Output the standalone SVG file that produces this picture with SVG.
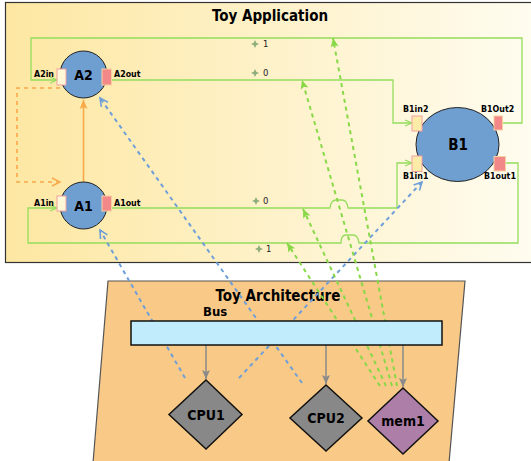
<svg xmlns="http://www.w3.org/2000/svg" width="531" height="461" viewBox="0 0 531 461">
<defs>
<linearGradient id="appGrad" x1="0" y1="0" x2="1" y2="0">
<stop offset="0" stop-color="#fde7a2"/>
<stop offset="1" stop-color="#fffdf2"/>
</linearGradient>
<marker id="gOpen" markerUnits="userSpaceOnUse" markerWidth="10" markerHeight="10" refX="8" refY="4" orient="auto">
<path d="M1,1 L8,4 L1,7" fill="none" stroke="#94dd5c" stroke-width="1.2"/>
</marker>
<marker id="gFill" markerUnits="userSpaceOnUse" markerWidth="12" markerHeight="12" refX="9" refY="5" orient="auto">
<path d="M0,1 L9,5 L0,9 L2,5 Z" fill="#88d848"/>
</marker>
<marker id="bOpen" markerUnits="userSpaceOnUse" markerWidth="12" markerHeight="12" refX="9" refY="5" orient="auto">
<path d="M1,1 L9,5 L1,9" fill="none" stroke="#6e9fd8" stroke-width="1.6"/>
</marker>
<marker id="oOpen" markerUnits="userSpaceOnUse" markerWidth="12" markerHeight="12" refX="9" refY="5" orient="auto">
<path d="M1,1 L9,5 L1,9" fill="none" stroke="#f8a94a" stroke-width="1.4"/>
</marker>
<marker id="oFill" markerUnits="userSpaceOnUse" markerWidth="12" markerHeight="12" refX="9" refY="5" orient="auto">
<path d="M0,1 L9,5 L0,9 L2,5 Z" fill="#f8a94a"/>
</marker>
<marker id="grayArr" markerUnits="userSpaceOnUse" markerWidth="12" markerHeight="12" refX="9" refY="5" orient="auto">
<path d="M0,1 L9,5 L0,9 L2,5 Z" fill="#8a8a8a"/>
</marker>
<path id="star" d="M0,-4 L1.3,-1.3 L4,0 L1.3,1.3 L0,4 L-1.3,1.3 L-4,0 L-1.3,-1.3 Z" fill="#8fae7c"/>
</defs>
<style>
.t{font-family:"DejaVu Sans Condensed","DejaVu Sans",sans-serif;font-weight:bold;fill:#000}
.title{font-size:15px;text-anchor:middle}
.node{font-size:14px;text-anchor:middle}
.port{font-size:8.8px}
.num{font-family:"DejaVu Sans",sans-serif;font-size:8.5px;fill:#222}
.circ{fill:#6f9ed0;stroke:#222;stroke-width:1}
.pin{fill:#fff8d8;stroke:#f2a0a0;stroke-width:1}
.pin2{fill:#fdeba8;stroke:#f2a0a0;stroke-width:1}
.pout{fill:#f28888;stroke:#f9d0a0;stroke-width:1}
.gl{fill:none;stroke:#94dd5c;stroke-width:1.3}
.gd{fill:none;stroke:#88d848;stroke-width:2;stroke-dasharray:4 4}
.bd{fill:none;stroke:#6e9fd8;stroke-width:2;stroke-dasharray:4 4}
.dia{stroke:#111;stroke-width:1.5}
</style>

<g id="ToyApplication">
<rect x="5.5" y="2.5" width="540" height="260" fill="url(#appGrad)" stroke="#333" stroke-width="1.2"/>
<text class="t title" x="270" y="20.5">Toy Application</text>
</g>

<g id="ToyArchitecture">
<polygon points="108,281 465,281 449,463 93,463" fill="#f9c987" stroke="#555" stroke-width="1.2"/>
<text class="t title" x="278" y="300.5">Toy Architecture</text>
</g>

<g id="connectors">
<path class="gl" d="M502,123 H522 V38 H31 V80 H57" marker-end="url(#gOpen)"/>
<path class="gl" d="M112,80 H393 V123 H412" marker-end="url(#gOpen)"/>
<path class="gl" d="M112,208 H330 Q331,200 336,200 H342 Q347,200 348,208 H397 V163 H412" marker-end="url(#gOpen)"/>
<path class="gl" d="M506,163 H518 V243 H359 Q358,235 353,235 H346 Q341,235 341,243 H28 V208 H57" marker-end="url(#gOpen)"/>
<path d="M83.5,182 V100" stroke="#f8a94a" stroke-width="1.6" fill="none" marker-end="url(#oFill)"/>
<path d="M60,88 H17 V182 H60" stroke="#f8a94a" stroke-width="1.6" fill="none" stroke-dasharray="4 4" marker-end="url(#oOpen)"/>
<path d="M206,345 V379" stroke="#8a8a8a" stroke-width="1.5" marker-end="url(#grayArr)"/>
<path d="M326,345 V384" stroke="#8a8a8a" stroke-width="1.5" marker-end="url(#grayArr)"/>
<path d="M403,345 V387" stroke="#8a8a8a" stroke-width="1.5" marker-end="url(#grayArr)"/>
<path class="bd" d="M185,378 L100,230" marker-end="url(#bOpen)"/>
<path class="bd" d="M239,378 L422,182" marker-end="url(#bOpen)"/>
<path class="bd" d="M302,383 L100,98" marker-end="url(#bOpen)"/>
<path class="gd" d="M380,386 L287,243" marker-end="url(#gFill)"/>
<path class="gd" d="M386,386 L303,209" marker-end="url(#gFill)"/>
<path class="gd" d="M392,386 L302,80" marker-end="url(#gFill)"/>
<path class="gd" d="M397,386 L333,38" marker-end="url(#gFill)"/>
<use href="#star" x="255" y="44"/>
<text class="num" x="263" y="47">1</text>
<use href="#star" x="255" y="73"/>
<text class="num" x="263" y="76">0</text>
<use href="#star" x="256" y="201"/>
<text class="num" x="263" y="204">0</text>
<use href="#star" x="259" y="249"/>
<text class="num" x="266" y="252">1</text>
</g>

<g id="A2">
<circle class="circ" cx="83.5" cy="74.5" r="23.5"/>
<rect class="pin" x="57" y="69" width="9" height="16"/>
<rect class="pout" x="102" y="69" width="9.5" height="16"/>
<text class="t node" x="83.5" y="79.5">A2</text>
<text class="t port" x="34" y="77">A2in</text>
<text class="t port" x="114" y="77">A2out</text>
</g>

<g id="A1">
<circle class="circ" cx="83.5" cy="205.5" r="23.5"/>
<rect class="pin" x="57" y="196" width="9" height="15"/>
<rect class="pout" x="102" y="196" width="9.5" height="15"/>
<text class="t node" x="83.5" y="210.5">A1</text>
<text class="t port" x="34" y="205.5">A1in</text>
<text class="t port" x="114" y="205.5">A1out</text>
</g>

<g id="B1">
<ellipse class="circ" cx="457.5" cy="144.5" rx="41.5" ry="37"/>
<rect class="pin2" x="412" y="116" width="10" height="15"/>
<rect class="pout" x="494" y="116" width="8.5" height="14"/>
<rect class="pin2" x="412" y="156" width="10" height="15.5"/>
<rect class="pout" x="494" y="156.5" width="11.5" height="14.5"/>
<text class="t node" x="458" y="150" style="font-size:15px">B1</text>
<text class="t port" x="403" y="111.5">B1in2</text>
<text class="t port" x="481" y="111.5">B1Out2</text>
<text class="t port" x="403" y="179">B1in1</text>
<text class="t port" x="484" y="179">B1out1</text>
</g>

<g id="Bus">
<rect x="131" y="321" width="311" height="24" fill="#c0ecfb" stroke="#111" stroke-width="1.5"/>
<text class="t" x="203" y="315.5" style="font-size:13px">Bus</text>
</g>

<g id="CPU1">
<polygon class="dia" points="206,380 242,414.5 206,449 169,414.5" fill="#888888"/>
<text class="t node" x="206" y="419.5">CPU1</text>
</g>

<g id="CPU2">
<polygon class="dia" points="326,385 362,418 326,451 290,418" fill="#888888"/>
<text class="t node" x="326" y="423">CPU2</text>
</g>

<g id="mem1">
<polygon class="dia" points="403,388 438,421 403,454 368,421" fill="#ad7fa8"/>
<text class="t node" x="403" y="426">mem1</text>
</g>
</svg>
